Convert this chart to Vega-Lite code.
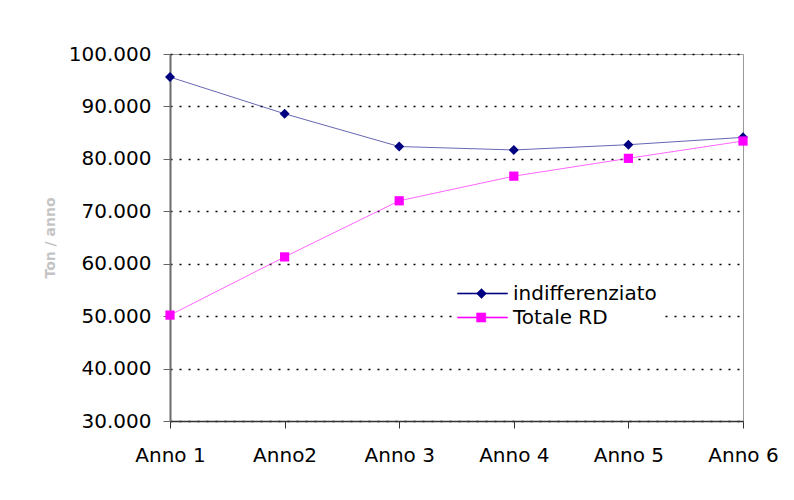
{
  "$schema": "https://vega.github.io/schema/vega-lite/v6.json",
  "width": 573,
  "height": 367,
  "autosize": {"type": "none"},
  "padding": {"left": 170, "top": 54, "right": 51, "bottom": 79},
  "background": "white",
  "config": {
    "font": "DejaVu Sans",
    "view": {"stroke": "#999999", "strokeWidth": 1}
  },
  "data": {
    "values": [
      {"anno": "Anno 1", "serie": "indifferenziato", "valore": 95600},
      {"anno": "Anno2", "serie": "indifferenziato", "valore": 88600},
      {"anno": "Anno 3", "serie": "indifferenziato", "valore": 82350},
      {"anno": "Anno 4", "serie": "indifferenziato", "valore": 81700},
      {"anno": "Anno 5", "serie": "indifferenziato", "valore": 82700},
      {"anno": "Anno 6", "serie": "indifferenziato", "valore": 84100},
      {"anno": "Anno 1", "serie": "Totale RD", "valore": 50200},
      {"anno": "Anno2", "serie": "Totale RD", "valore": 61300},
      {"anno": "Anno 3", "serie": "Totale RD", "valore": 72000},
      {"anno": "Anno 4", "serie": "Totale RD", "valore": 76700},
      {"anno": "Anno 5", "serie": "Totale RD", "valore": 80100},
      {"anno": "Anno 6", "serie": "Totale RD", "valore": 83400}
    ]
  },
  "encoding": {
    "x": {
      "field": "anno", "type": "ordinal",
      "sort": ["Anno 1", "Anno2", "Anno 3", "Anno 4", "Anno 5", "Anno 6"],
      "scale": {"type": "point", "padding": 0},
      "axis": {
        "title": null, "labelAngle": 0, "labelFontSize": 20, "labelColor": "#000000",
        "labelPadding": 17, "tickSize": 7, "tickColor": "#333333", "domainColor": "#333333",
        "domainWidth": 1.5, "grid": false
      }
    },
    "y": {
      "field": "valore", "type": "quantitative",
      "scale": {"domain": [30000, 100000], "nice": false, "zero": false},
      "axis": {
        "title": "Ton / anno", "titleColor": "#c4c4c4", "titleFontSize": 14, "titleFontWeight": "bold",
        "titlePadding": 11,
        "values": [30000, 40000, 50000, 60000, 70000, 80000, 90000, 100000],
        "labelExpr": "replace(format(datum.value, ','), ',', '.')",
        "labelFontSize": 20, "labelColor": "#000000", "labelPadding": 12,
        "tickSize": 7, "tickColor": "#666666", "domainColor": "#6b6b6b", "domainWidth": 2,
        "grid": true, "gridColor": "#000000", "gridDash": [2, 7], "gridWidth": 1.5
      }
    },
    "color": {
      "field": "serie", "type": "nominal",
      "scale": {"domain": ["indifferenziato", "Totale RD"], "range": ["#000080", "#ff00ff"]},
      "legend": {
        "title": null, "orient": "none", "legendX": 282, "legendY": 222,
        "fillColor": "white", "padding": 5, "labelFontSize": 20, "labelColor": "#000000",
        "labelOffset": 31, "symbolSize": 576, "rowPadding": 1, "symbolOpacity": 1,
        "symbolStrokeWidth": 0.5
      }
    }
  },
  "layer": [
    {
      "mark": {"type": "line", "strokeWidth": 1, "strokeOpacity": 0.6}
    },
    {
      "transform": [{"filter": "datum.serie === 'indifferenziato'"}],
      "mark": {"type": "point", "filled": true, "opacity": 1, "shape": "diamond", "size": 100}
    },
    {
      "transform": [{"filter": "datum.serie === 'Totale RD'"}],
      "mark": {"type": "point", "filled": true, "opacity": 1, "shape": "square", "size": 85}
    },
    {
      "transform": [{"filter": "datum.valore < 0"}],
      "mark": {"type": "point", "filled": true, "opacity": 1},
      "encoding": {
        "shape": {
          "field": "serie", "type": "nominal",
          "scale": {
            "domain": ["indifferenziato", "Totale RD"],
            "range": [
              "M-1,-0.05L3.167,-0.05L3.167,0.05L-1,0.05ZM1,-0.417L1.417,0L1,0.417L0.583,0Z",
              "M-1,-0.05L3.167,-0.05L3.167,0.05L-1,0.05ZM0.59,-0.385L1.36,-0.385L1.36,0.385L0.59,0.385Z"
            ]
          },
          "legend": null
        }
      }
    }
  ]
}
